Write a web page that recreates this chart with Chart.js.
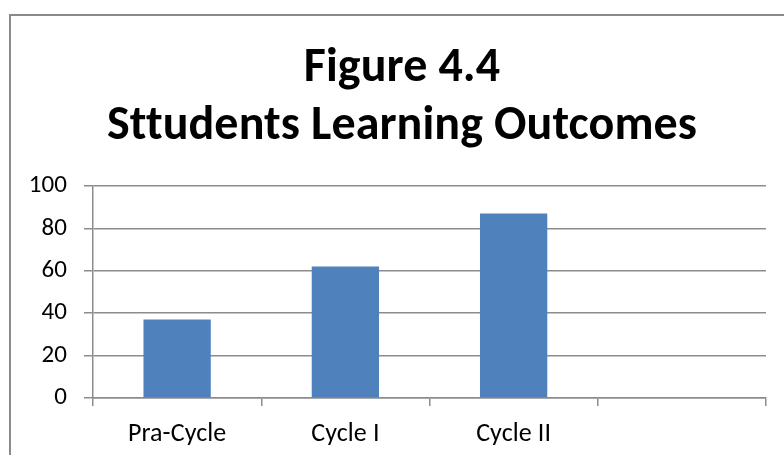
<!DOCTYPE html>
<html><head><meta charset="utf-8">
<script src="https://cdn.jsdelivr.net/npm/chart.js@4"></script>
<style>
html,body{margin:0;padding:0;background:#fff;overflow:hidden;width:784px;height:455px;}
#frame{position:absolute;left:9px;top:14px;width:800px;height:500px;border:2px solid #8a8a8a;box-sizing:border-box;}
#wrap{position:absolute;left:0;top:0;width:784px;height:455px;}
</style></head><body>
<div id="frame"></div>
<div id="wrap"><canvas id="c" width="784" height="455"></canvas></div>
<script>
const categories = ['Pra-Cycle', 'Cycle I', 'Cycle II', ''];
const outcomes = [37, 62, 87, null];
const yTickValues = [0, 20, 40, 60, 80, 100];
const titleLines = ['Figure 4.4', 'Sttudents Learning Outcomes'];

const gridColor = '#8c8c8c';
const fontFamily = 'Calibri, Carlito, Lato, sans-serif';

const noLigatures = {
  id: 'noLigatures',
  beforeUpdate(chart) { chart.ctx.letterSpacing = '0.1px'; },
  beforeDraw(chart) { chart.ctx.letterSpacing = '0.1px'; }
};

new Chart(document.getElementById('c'), {
  type: 'bar',
  data: {
    labels: categories,
    datasets: [{
      data: outcomes,
      backgroundColor: '#4F81BD',
      borderWidth: 0,
      categoryPercentage: 1,
      barPercentage: 0.4
    }]
  },
  plugins: [noLigatures],
  options: {
    responsive: false,
    animation: false,
    devicePixelRatio: 1,
    layout: { padding: { left: 38, right: 18, top: 0, bottom: 0 } },
    plugins: {
      legend: { display: false },
      tooltip: { enabled: false },
      title: {
        display: true,
        text: titleLines,
        color: '#000',
        font: { family: fontFamily, weight: 'bold', size: 48, lineHeight: 58 / 48 },
        padding: { top: 40, bottom: 30 }
      }
    },
    scales: {
      x: {
        offset: true,
        grid: { offset: true, drawOnChartArea: false, drawTicks: true, tickLength: 8, color: gridColor, lineWidth: 1.5 },
        border: { display: true, color: gridColor, width: 1.5 },
        ticks: { color: '#000', font: { family: fontFamily, size: 26 }, padding: 13, maxRotation: 0 },
        afterFit: s => { s.height = 57; }
      },
      y: {
        min: 0,
        max: 100,
        afterBuildTicks: s => { s.ticks = yTickValues.map(v => ({ value: v })); },
        grid: { drawTicks: true, tickLength: 9, color: gridColor, lineWidth: 1.5 },
        border: { display: true, color: gridColor, width: 1.5 },
        ticks: { color: '#000', font: { family: fontFamily, size: 25 }, padding: 17 },
        afterFit: s => { s.width = 55; s._computeLabelArea = () => undefined; }
      }
    }
  }
});
</script>
</body></html>
